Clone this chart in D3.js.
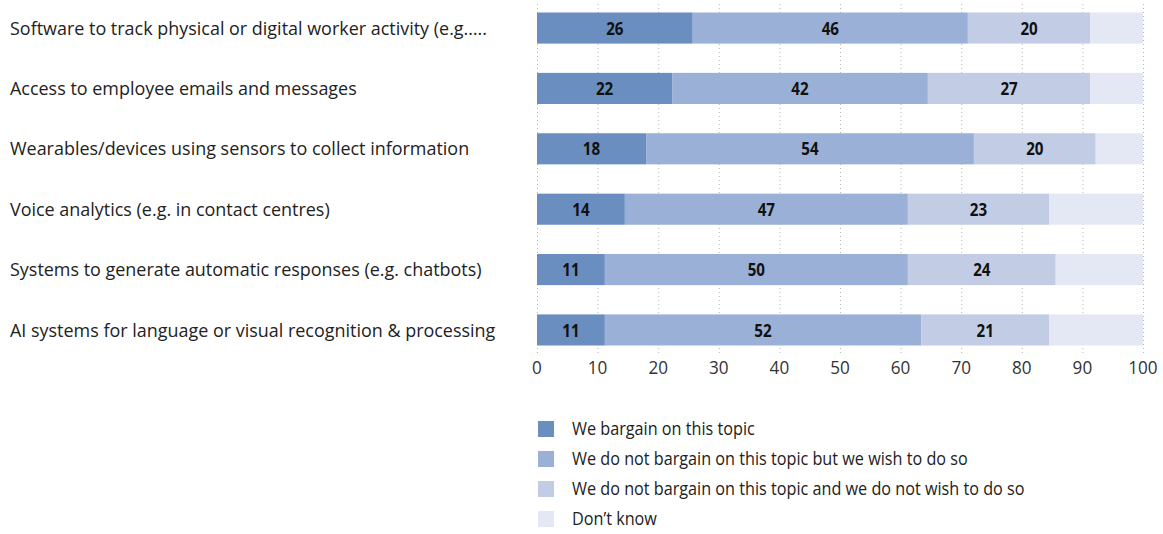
<!DOCTYPE html>
<html>
<head>
<meta charset="utf-8">
<script src="https://cdn.jsdelivr.net/npm/d3@7"></script>
<style>
  body { margin: 0; background: #fff; }
  text { font-family: "Open Sans", "Noto Sans", sans-serif; }
</style>
</head>
<body>
<div id="chart"></div>
<script>
let categories = [
    "Software to track physical or digital worker activity (e.g.\u2026.",
    "Access to employee emails and messages",
    "Wearables/devices using sensors to collect information",
    "Voice analytics (e.g. in contact centres)",
    "Systems to generate automatic responses (e.g. chatbots)",
    "AI systems for language or visual recognition & processing"
];

let seriesNames = [
    "We bargain on this topic",
    "We do not bargain on this topic but we wish to do so",
    "We do not bargain on this topic and we do not wish to do so",
    "Don\u2019t know"
];

let bargain = [25.7, 22.3, 18.0, 14.5, 11.2, 11.2];
let wishTo = [45.4, 42.2, 54.1, 46.7, 50.0, 52.2];
let noWish = [20.2, 26.8, 20.1, 23.3, 24.4, 21.1];
let dontKnow = [8.7, 8.7, 7.8, 15.5, 14.4, 15.5];

let labelBargain = [26, 22, 18, 14, 11, 11];
let labelWish = [46, 42, 54, 47, 50, 52];
let labelNoWish = [20, 27, 20, 23, 24, 21];

let xTicks = [0, 10, 20, 30, 40, 50, 60, 70, 80, 90, 100];

let colors = ["#6a8ec0", "#9bb0d6", "#c2cde5", "#e4e8f4"];

let margin = {container_width: 1163, container_height: 534, top: 0, left: 537, plotRight: 1143};

let svg = d3.select("#chart")
    .append("svg")
    .attr("width", margin.container_width)
    .attr("height", margin.container_height);

let x = d3.scaleLinear()
    .domain([0, 100])
    .range([margin.left, margin.plotRight]);

let y = d3.scaleBand()
    .domain(categories)
    .range([-2, 360])
    .paddingInner(0.485)
    .paddingOuter(0.24);

// dotted vertical gridlines
svg.append("g")
    .selectAll("line")
    .data(xTicks)
    .enter()
    .append("line")
    .attr("x1", function(d) { return x(d) + 0.5; })
    .attr("x2", function(d) { return x(d) + 0.5; })
    .attr("y1", 4)
    .attr("y2", 356)
    .attr("stroke", "#b5b5b5")
    .attr("stroke-width", 1)
    .attr("stroke-dasharray", "1,3");

let rows = categories.map(function(c, i) {
    return {cat: c, vals: [bargain[i], wishTo[i], noWish[i], dontKnow[i]],
            labels: [labelBargain[i], labelWish[i], labelNoWish[i], null]};
});

let rowG = svg.append("g")
    .selectAll("g")
    .data(rows)
    .enter()
    .append("g");

rowG.each(function(r) {
    let g = d3.select(this);
    let start = 0;
    r.vals.forEach(function(v, k) {
        let x0 = x(start), x1 = x(start + v);
        g.append("rect")
            .attr("x", x0)
            .attr("y", y(r.cat))
            .attr("width", x1 - x0)
            .attr("height", y.bandwidth())
            .attr("fill", colors[k]);
        if (r.labels[k] != null) {
            g.append("text")
                .attr("x", (x0 + x1) / 2)
                .attr("y", y(r.cat) + y.bandwidth() / 2)
                .attr("dy", "0.36em")
                .attr("text-anchor", "middle")
                .style("font-size", "18.5px")
                .style("font-weight", "bold")
                .attr("fill", "#111")
                .text(r.labels[k])
                .each(function() {
                    let w = this.getComputedTextLength();
                    d3.select(this).attr("textLength", w * 0.82).attr("lengthAdjust", "spacingAndGlyphs");
                });
        }
        start += v;
    });
});

// category labels
svg.append("g")
    .selectAll("text")
    .data(categories)
    .enter()
    .append("text")
    .attr("x", 10)
    .attr("y", function(d) { return y(d) + y.bandwidth() / 2; })
    .attr("dy", "0.36em")
    .style("font-size", "18.5px")
    .attr("fill", "#222")
    .text(function(d) { return d; })
    .each(function() {
        // the installed font is a bit wider than the original one
        let w = this.getComputedTextLength();
        d3.select(this).attr("textLength", w * 0.97).attr("lengthAdjust", "spacingAndGlyphs");
    });

// x axis tick labels
svg.append("g")
    .selectAll("text")
    .data(xTicks)
    .enter()
    .append("text")
    .attr("x", function(d) { return x(d); })
    .attr("y", 368)
    .attr("dy", "0.36em")
    .attr("text-anchor", "middle")
    .style("font-size", "18px")
    .attr("fill", "#333")
    .text(function(d) { return d; })
    .each(function() {
        let w = this.getComputedTextLength();
        d3.select(this).attr("textLength", w * 0.95).attr("lengthAdjust", "spacingAndGlyphs");
    });

// legend
let legend = svg.append("g")
    .selectAll("g")
    .data(seriesNames)
    .enter()
    .append("g")
    .attr("transform", function(d, i) { return "translate(538," + (421 + i * 30) + ")"; });

legend.append("rect")
    .attr("width", 16)
    .attr("height", 16)
    .attr("fill", function(d, i) { return colors[i]; });

legend.append("text")
    .attr("x", 34)
    .attr("y", 8)
    .attr("dy", "0.36em")
    .style("font-size", "18px")
    .attr("fill", "#222")
    .text(function(d) { return d; })
    .each(function() {
        let w = this.getComputedTextLength();
        d3.select(this).attr("textLength", w * 0.9).attr("lengthAdjust", "spacingAndGlyphs");
    });
</script>
</body>
</html>
